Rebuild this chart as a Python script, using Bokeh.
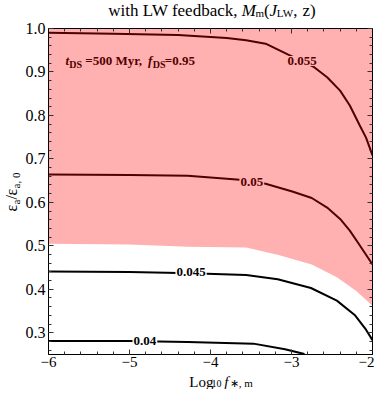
import numpy as np
from bokeh.plotting import figure
from bokeh.layouts import row, column
from bokeh.models import Range1d, LinearAxis, SingleIntervalTicker, PrintfTickFormatter
from bokeh.core.properties import value
from bokeh.embed import file_html
from bokeh.resources import INLINE

# ---------------- data ----------------
c055_x = [-6.0, -5.2, -4.4, -3.8, -3.56, -3.32, -3.04, -2.87, -2.72, -2.56, -2.40, -2.28, -2.16, -2.08, -2.0]
c055_y = [0.990, 0.988, 0.985, 0.978, 0.973, 0.965, 0.940, 0.925, 0.911, 0.888, 0.857, 0.823, 0.778, 0.749, 0.708]

c050_x = [-6.0, -5.0, -4.28, -3.64, -3.32, -2.99, -2.75, -2.56, -2.40, -2.28, -2.16, -2.0]
c050_y = [0.664, 0.663, 0.661, 0.652, 0.643, 0.625, 0.610, 0.588, 0.562, 0.535, 0.502, 0.457]

c045_x = [-6.0, -5.0, -4.24, -3.56, -3.17, -2.76, -2.44, -2.22, -2.08, -2.0]
c045_y = [0.441, 0.440, 0.437, 0.433, 0.423, 0.403, 0.374, 0.341, 0.307, 0.283]

c040_x = [-6.0, -5.0, -4.28, -3.47, -3.08, -2.84]
c040_y = [0.281, 0.281, 0.279, 0.275, 0.262, 0.251]

region_x = [-6.0, -5.0, -4.28, -3.56, -3.16, -2.75, -2.44, -2.20, -2.0]
region_lo = [0.505, 0.503, 0.498, 0.496, 0.479, 0.457, 0.428, 0.396, 0.362]
region_hi = [1.0, 1.0, 1.0, 1.0, 1.0, 1.0, 1.0, 1.0, 1.0]

label_text = ["0.055", "0.05", "0.045", "0.04"]
label_x = [-2.87, -3.49, -4.24, -4.81]
label_y = [0.925, 0.648, 0.439, 0.281]

x_tick_labels = {-6: "\u22126", -5: "\u22125", -4: "\u22124", -3: "\u22123", -2: "\u22122"}

# ---------------- layout ----------------
W, H = 374, 389
WL = 22            # strip for the y label
HT = 19            # strip for the title
HX = 15            # strip for the x label
MW, MH = W - WL, H - HT - HX
BL, BR, BT, BB = 24, 2, 9, 20
X0, X1, Y0, Y1 = -6.0, -2.0, 0.25, 1.0
FL = WL + BL       # frame left in page px
FT = HT + BT       # frame top in page px
SX = (MW - BL - BR) / (X1 - X0)
SY = (MH - BT - BB) / (Y1 - Y0)
MID = 0.34         # alphabetic baseline -> text middle, in em

def rx(px):
    return X0 + (px - FL) / SX

def ry(py):
    return Y1 - (py - FT) / SY

SERIF = "Liberation Serif"

p = figure(width=MW, height=MH, output_backend="svg", toolbar_location=None,
           x_range=Range1d(X0, X1), y_range=Range1d(Y0, Y1),
           min_border_left=BL, min_border_right=BR, min_border_top=BT, min_border_bottom=BB,
           x_axis_location=None, y_axis_location=None)
p.grid.visible = False
p.outline_line_color = "black"
p.background_fill_color = "white"
p.border_fill_color = "white"

def make_axis(ticker, label_size=None, standoff=3, formatter=None):
    axis = LinearAxis(ticker=ticker)
    if formatter is not None:
        axis.formatter = formatter
    axis.axis_line_color = "black"
    axis.major_tick_in = 5
    axis.major_tick_out = 0
    axis.minor_tick_in = 3
    axis.minor_tick_out = 0
    axis.major_tick_line_color = "#333333"
    axis.minor_tick_line_color = "#333333"
    axis.major_label_text_font = SERIF
    if label_size:
        axis.major_label_text_color = "black"
        axis.major_label_text_font_size = label_size
        axis.major_label_standoff = standoff
    else:
        axis.major_label_text_color = None
        axis.major_label_text_font_size = "1px"
        axis.major_label_standoff = 0
    return axis

xt = lambda: SingleIntervalTicker(interval=1, num_minor_ticks=5)
yt = lambda: SingleIntervalTicker(interval=0.1, num_minor_ticks=5)

xb = make_axis(xt(), "15px", 2)
xb.major_label_overrides = x_tick_labels
p.add_layout(xb, "below")
p.add_layout(make_axis(xt()), "above")
p.add_layout(make_axis(yt(), "16px", 3, PrintfTickFormatter(format="%.1f")), "left")
p.add_layout(make_axis(yt()), "right")

# ---------------- contours ----------------
for xs, ys in [(c055_x, c055_y), (c050_x, c050_y), (c045_x, c045_y), (c040_x, c040_y)]:
    p.line(xs, ys, line_color="black", line_width=2)

p.text(x=label_x, y=label_y, text=label_text, text_font=value(SERIF),
       text_font_style="bold", text_font_size="13px", text_color="black",
       text_align="center", text_baseline="middle",
       background_fill_color="white", padding=1)

def tpiece(txt, px, base, size, style):
    p.text(x=[rx(px)], y=[ry(base - MID * size)], text=[txt], text_font=value(SERIF),
           text_font_style=style, text_font_size=f"{size}px", text_color="black",
           text_align="left", text_baseline="middle")

tpiece("t", 63, 64, 13, "bold italic")
tpiece("DS", 67, 67, 10, "bold")
tpiece("=500 Myr,", 83, 64, 13, "bold")
tpiece("f", 146, 64, 13, "bold italic")
tpiece("DS", 151, 67, 10, "bold")
tpiece("=0.95", 163, 64, 13, "bold")

# excluded (pink) region: translucent red over the black marks -> dark red
p.varea(x=region_x, y1=region_lo, y2=region_hi, fill_color="#ff0000", fill_alpha=0.31)

# ---------------- strips for title / axis labels ----------------
def strip(w, h):
    f = figure(width=w, height=h, output_backend="svg", toolbar_location=None,
               x_range=Range1d(0, w), y_range=Range1d(h, 0),
               min_border=0, x_axis_location=None, y_axis_location=None)
    f.grid.visible = False
    f.outline_line_color = None
    f.background_fill_color = "white"
    f.border_fill_color = "white"
    return f

def piece(f, txt, x, mid, size, style="normal", vertical=False):
    # mid: position of the text's middle line (page-local px)
    if vertical:   # text runs bottom -> top
        xx, yy, ang = mid, x, np.pi / 2
    else:
        xx, yy, ang = x, mid, 0.0
    f.text(x=[xx], y=[yy], text=[txt], text_font=value(SERIF), text_font_style=style,
           text_font_size=f"{size}px", text_color="black", text_align="left",
           text_baseline="middle", angle=ang)

# title strip (x given in page px; strip starts at page x = WL)
t = strip(MW, HT)
piece(t, "with LW feedback,", 87 - WL, 9.5, 17)
piece(t, "M", 232 - WL, 9.5, 17, "italic")
piece(t, "m", 247 - WL, 12.8, 11)
piece(t, "(", 256 - WL, 9.5, 17)
piece(t, "J", 262 - WL, 9.5, 17, "italic")
piece(t, "LW", 270 - WL, 12.8, 11)
piece(t, ",", 288 - WL, 9.5, 17)
piece(t, "z)", 298 - WL, 9.5, 17)

# x-label strip (page y offset HT+MH)
xl = strip(MW, HX)
piece(xl, "Log", 175 - WL, 7.3, 15)
piece(xl, "10", 199 - WL, 9.2, 10)
piece(xl, "f", 213 - WL, 7.3, 15, "italic")
piece(xl, "\u2217, m", 219 - WL, 8.8, 11)

# y-label strip (page offset 0,0)
yl = strip(WL, H)
piece(yl, "\u03b5", 211, 10.6, 16, vertical=True)
piece(yl, "a", 204, 15.3, 11, vertical=True)
piece(yl, "/", 199, 10.6, 16, vertical=True)
piece(yl, "\u03b5", 195, 10.6, 16, vertical=True)
piece(yl, "a, 0", 188, 15.3, 11, vertical=True)

layout = row(yl, column(t, p, xl, spacing=0), spacing=0)
open("out.html", "w").write(file_html(layout, INLINE))
